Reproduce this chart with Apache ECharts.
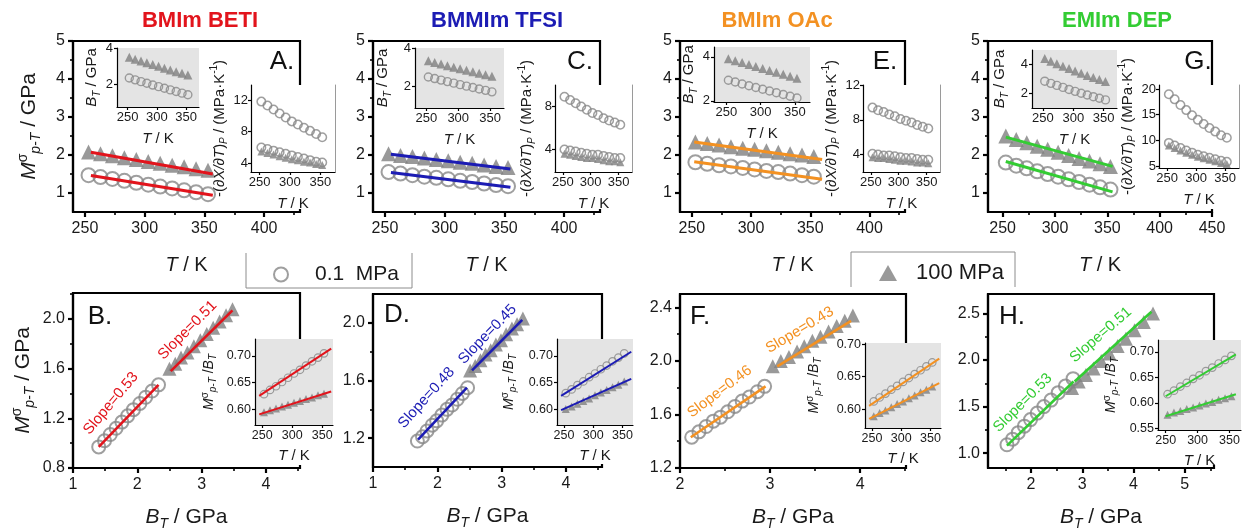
<!DOCTYPE html>
<html>
<head>
<meta charset="utf-8">
<script src="https://cdn.jsdelivr.net/npm/echarts@6/dist/echarts.min.js"></script>
<style>
  html, body { margin: 0; padding: 0; background: #fff; }
  #chart { width: 1243px; height: 531px; }
</style>
</head>
<body>
<div id="chart"></div>
<script>
// temperatures (K), shared by every panel
const T = [253, 263, 273, 283, 293, 303, 313, 323, 333, 343, 353];

// BMIm BETI
const BETI_BT01 = [2.33, 2.23, 2.13, 2.04, 1.94, 1.85, 1.76, 1.67, 1.58, 1.49, 1.40];
const BETI_M01 = [1.47, 1.42, 1.37, 1.32, 1.27, 1.22, 1.17, 1.12, 1.07, 1.02, 0.97];
const BETI_BT100 = [3.48, 3.38, 3.28, 3.18, 3.08, 2.98, 2.88, 2.78, 2.68, 2.59, 2.50];
const BETI_M100 = [2.08, 2.03, 1.98, 1.93, 1.88, 1.83, 1.78, 1.73, 1.69, 1.64, 1.60];
const BETI_dTop = [11.8, 11.3, 10.8, 10.3, 9.8, 9.3, 8.9, 8.5, 8.1, 7.7, 7.3];
const BETI_dLow01 = [6.0, 5.8, 5.6, 5.4, 5.2, 5.0, 4.8, 4.6, 4.4, 4.2, 4.1];
const BETI_dLow100 = [5.5, 5.3, 5.1, 4.9, 4.7, 4.5, 4.4, 4.2, 4.1, 3.9, 3.8];
const BETI_R01 = [0.628, 0.636, 0.643, 0.651, 0.659, 0.667, 0.674, 0.682, 0.690, 0.697, 0.705];
const BETI_R100 = [0.594, 0.598, 0.601, 0.605, 0.608, 0.612, 0.615, 0.619, 0.622, 0.626, 0.629];
const BETI_fitT01 = [[255, 1.46], [357, 0.94]];
const BETI_fitT100 = [[255, 2.07], [357, 1.50]];
const BETI_fitB01 = [[1.40, 0.97], [2.33, 1.47]];
const BETI_fitB100 = [[2.52, 1.58], [3.48, 2.07]];
const BETI_fitR01 = [[245, 0.625], [365, 0.714]];
const BETI_fitR100 = [[245, 0.590], [365, 0.633]];

// BMMIm TFSI
const TFSI_BT01 = [2.47, 2.39, 2.31, 2.23, 2.15, 2.07, 1.99, 1.92, 1.84, 1.77, 1.69];
const TFSI_M01 = [1.55, 1.51, 1.47, 1.43, 1.40, 1.36, 1.32, 1.29, 1.25, 1.21, 1.18];
const TFSI_BT100 = [3.33, 3.24, 3.16, 3.07, 2.99, 2.91, 2.83, 2.75, 2.67, 2.59, 2.51];
const TFSI_M100 = [2.03, 1.99, 1.96, 1.92, 1.88, 1.85, 1.81, 1.78, 1.74, 1.70, 1.67];
const TFSI_dTop = [8.9, 8.6, 8.3, 8.0, 7.7, 7.4, 7.2, 6.9, 6.7, 6.5, 6.3];
const TFSI_dLow01 = [4.0, 3.9, 3.8, 3.7, 3.6, 3.5, 3.5, 3.4, 3.3, 3.2, 3.2];
const TFSI_dLow100 = [3.6, 3.5, 3.4, 3.3, 3.2, 3.2, 3.1, 3.0, 2.9, 2.9, 2.8];
const TFSI_R01 = [0.630, 0.637, 0.645, 0.652, 0.660, 0.667, 0.675, 0.682, 0.690, 0.697, 0.705];
const TFSI_R100 = [0.600, 0.605, 0.610, 0.615, 0.620, 0.626, 0.631, 0.636, 0.641, 0.646, 0.652];
const TFSI_fitT01 = [[255, 1.54], [355, 1.15]];
const TFSI_fitT100 = [[255, 2.02], [355, 1.63]];
const TFSI_fitB01 = [[1.70, 1.19], [2.46, 1.55]];
const TFSI_fitB100 = [[2.54, 1.67], [3.32, 2.02]];
const TFSI_fitR01 = [[245, 0.625], [365, 0.708]];
const TFSI_fitR100 = [[245, 0.598], [365, 0.657]];

// BMIm OAc
const OAC_BT01 = [2.94, 2.86, 2.77, 2.69, 2.61, 2.53, 2.45, 2.37, 2.29, 2.21, 2.13];
const OAC_M01 = [1.81, 1.77, 1.73, 1.70, 1.66, 1.62, 1.58, 1.55, 1.51, 1.47, 1.43];
const OAC_BT100 = [3.92, 3.83, 3.74, 3.65, 3.56, 3.47, 3.38, 3.30, 3.21, 3.12, 3.03];
const OAC_M100 = [2.34, 2.30, 2.26, 2.22, 2.18, 2.15, 2.11, 2.07, 2.03, 2.00, 1.96];
const OAC_dTop = [9.4, 9.1, 8.9, 8.6, 8.4, 8.1, 7.9, 7.7, 7.4, 7.2, 7.0];
const OAC_dLow01 = [4.1, 4.0, 3.9, 3.9, 3.8, 3.7, 3.6, 3.6, 3.5, 3.4, 3.4];
const OAC_dLow100 = [3.7, 3.6, 3.6, 3.5, 3.4, 3.3, 3.3, 3.2, 3.1, 3.1, 3.0];
const OAC_R01 = [0.612, 0.618, 0.624, 0.630, 0.636, 0.642, 0.648, 0.654, 0.660, 0.666, 0.672];
const OAC_R100 = [0.589, 0.594, 0.598, 0.603, 0.608, 0.612, 0.617, 0.621, 0.626, 0.630, 0.635];
const OAC_fitT01 = [[252, 1.82], [360, 1.36]];
const OAC_fitT100 = [[252, 2.34], [360, 1.88]];
const OAC_fitB01 = [[2.12, 1.43], [2.95, 1.81]];
const OAC_fitB100 = [[3.08, 1.96], [3.90, 2.30]];
const OAC_fitR01 = [[245, 0.605], [365, 0.678]];
const OAC_fitR100 = [[245, 0.585], [365, 0.640]];

// EMIm DEP
const DEP_BT01 = [2.82, 2.67, 2.53, 2.39, 2.25, 2.12, 1.99, 1.87, 1.75, 1.64, 1.53];
const DEP_M01 = [1.80, 1.72, 1.65, 1.57, 1.50, 1.43, 1.36, 1.29, 1.22, 1.15, 1.09];
const DEP_BT100 = [4.38, 4.20, 4.02, 3.85, 3.69, 3.53, 3.37, 3.22, 3.07, 2.93, 2.80];
const DEP_M100 = [2.50, 2.41, 2.32, 2.23, 2.15, 2.07, 1.99, 1.91, 1.84, 1.77, 1.70];
const DEP_dTop = [19.0, 18.0, 16.9, 15.9, 14.9, 14.0, 13.2, 12.4, 11.7, 11.0, 10.5];
const DEP_dLow01 = [9.5, 9.0, 8.5, 8.0, 7.6, 7.2, 6.9, 6.6, 6.3, 6.0, 5.8];
const DEP_dLow100 = [9.0, 8.5, 8.0, 7.6, 7.2, 6.8, 6.5, 6.2, 5.9, 5.6, 5.4];
const DEP_R01 = [0.617, 0.624, 0.632, 0.639, 0.647, 0.654, 0.662, 0.669, 0.677, 0.684, 0.692];
const DEP_R100 = [0.577, 0.581, 0.584, 0.588, 0.591, 0.595, 0.599, 0.602, 0.606, 0.609, 0.613];
const DEP_fitT01 = [[253, 1.83], [355, 1.03]];
const DEP_fitT100 = [[253, 2.47], [355, 1.70]];
const DEP_fitB01 = [[1.53, 1.08], [2.83, 1.77]];
const DEP_fitB100 = [[2.85, 1.77], [4.35, 2.52]];
const DEP_fitR01 = [[250, 0.613], [360, 0.695]];
const DEP_fitR100 = [[250, 0.574], [360, 0.617]];

const FONT = 'Arial, "Liberation Sans", Helvetica, sans-serif';
const INK = '#1a1a1a';
const GREY = '#878787';
const TRI = '#7f7f7f';
const LEG01 = '0.1  MPa';
const LEG100 = '100 MPa';

const panels = [
  {
    name: 'BMIm BETI', color: '#e2141c', titleX: 200,
    d: { M01: BETI_M01, M100: BETI_M100, BT01: BETI_BT01, BT100: BETI_BT100, dTop: BETI_dTop, dLow01: BETI_dLow01, dLow100: BETI_dLow100, R01: BETI_R01, R100: BETI_R100,
         fitT01: BETI_fitT01, fitT100: BETI_fitT100, fitB01: BETI_fitB01, fitB100: BETI_fitB100, fitR01: BETI_fitR01, fitR100: BETI_fitR100 },
    top: [73, 41, 227, 171], topX: [240, 430, [250, 300, 350, 400], [275, 325, 375, 425]], topY: true,
    L: [117, 48, 82, 59], Ly: [0.72, 4, [2, 4]], Lgap: 15,
    R: [251, 85, 84, 87], Ry: [2.9, 13.9, [4, 8, 12]], Rgap: 14,
    letters: ['A.', 282, 62, 'B.', 100, 317],
    bot: [73, 293, 227, 175], bX: [1, 4.53, [1, 2, 3, 4], [1.5, 2.5, 3.5, 4.5]], bY: [0.8, 2.21, [0.8, 1.2, 1.6, 2.0], [1.0, 1.4, 1.8, 2.2]], botY: true,
    I: [255, 339, 78, 86], Iy: [0.57, 0.732, [0.60, 0.65, 0.70]], Igap: 37,
    slopes: [['Slope=0.53', 1.59, 1.32, 50], ['Slope=0.51', 2.78, 1.91, 45]]
  },
  {
    name: 'BMMIm TFSI', color: '#1c1cb4', titleX: 497,
    d: { M01: TFSI_M01, M100: TFSI_M100, BT01: TFSI_BT01, BT100: TFSI_BT100, dTop: TFSI_dTop, dLow01: TFSI_dLow01, dLow100: TFSI_dLow100, R01: TFSI_R01, R100: TFSI_R100,
         fitT01: TFSI_fitT01, fitT100: TFSI_fitT100, fitB01: TFSI_fitB01, fitB100: TFSI_fitB100, fitR01: TFSI_fitR01, fitR100: TFSI_fitR100 },
    top: [373, 41, 227, 171], topX: [240, 430, [250, 300, 350, 400], [275, 325, 375, 425]],
    L: [415, 48, 89, 60], Ly: [0.84, 4, [2, 4]], Lgap: 22,
    R: [555, 85, 77, 87], Ry: [1.9, 10, [4, 8]], Rgap: 18,
    letters: ['C.', 580, 62, 'D.', 397, 315],
    bot: [373, 294, 229, 173], bX: [1, 4.56, [1, 2, 3, 4], [1.5, 2.5, 3.5, 4.5]], bY: [1.0, 2.2, [1.2, 1.6, 2.0], [1.4, 1.8]],
    I: [557, 339, 76, 86], Iy: [0.57, 0.732, [0.60, 0.65, 0.70]], Igap: 39,
    slopes: [['Slope=0.48', 1.83, 1.48, 48], ['Slope=0.45', 2.78, 1.92, 46]]
  },
  {
    name: 'BMIm OAc', color: '#f39122', titleX: 777,
    d: { M01: OAC_M01, M100: OAC_M100, BT01: OAC_BT01, BT100: OAC_BT100, dTop: OAC_dTop, dLow01: OAC_dLow01, dLow100: OAC_dLow100, R01: OAC_R01, R100: OAC_R100,
         fitT01: OAC_fitT01, fitT100: OAC_fitT100, fitB01: OAC_fitB01, fitB100: OAC_fitB100, fitR01: OAC_fitR01, fitR100: OAC_fitR100 },
    top: [680, 41, 225, 171], topX: [240, 430, [250, 300, 350, 400], [275, 325, 375, 425]],
    L: [714, 47, 96, 55], Ly: [1.95, 4.45, [2, 4]], Lgap: 11,
    R: [863, 85, 77, 87], Ry: [2, 12, [4, 8, 12]], Rgap: 16,
    letters: ['E.', 885, 62, 'F.', 700, 317],
    bot: [680, 294, 226, 174], bX: [2, 4.51, [2, 3, 4], [2.5, 3.5, 4.5]], bY: [1.2, 2.5, [1.2, 1.6, 2.0, 2.4], [1.4, 1.8, 2.2]],
    I: [865, 343, 76, 85], Iy: [0.571, 0.702, [0.60, 0.65, 0.70]], Igap: 42,
    slopes: [['Slope=0.46', 2.44, 1.77, 37], ['Slope=0.43', 3.33, 2.23, 31]]
  },
  {
    name: 'EMIm DEP', color: '#33cc33', titleX: 1117,
    d: { M01: DEP_M01, M100: DEP_M100, BT01: DEP_BT01, BT100: DEP_BT100, dTop: DEP_dTop, dLow01: DEP_dLow01, dLow100: DEP_dLow100, R01: DEP_R01, R100: DEP_R100,
         fitT01: DEP_fitT01, fitT100: DEP_fitT100, fitB01: DEP_fitB01, fitB100: DEP_fitB100, fitR01: DEP_fitR01, fitR100: DEP_fitR100 },
    top: [988, 41, 224, 171], topX: [236, 450, [250, 300, 350, 400, 450], [275, 325, 375, 425]],
    L: [1032, 50, 85, 58], Ly: [0.97, 4.97, [2, 4]], Lgap: 22,
    R: [1159, 85, 80, 83], Ry: [4.6, 20.8, [5, 10, 15, 20]], Rgap: 17,
    letters: ['G.', 1198, 62, 'H.', 1012, 317],
    bot: [988, 294, 226, 174], bX: [1.16, 5.57, [2, 3, 4, 5], [1.5, 2.5, 3.5, 4.5, 5.5]], bY: [0.84, 2.71, [1.0, 1.5, 2.0, 2.5], [1.25, 1.75, 2.25]],
    I: [1158, 340, 83, 90], Iy: [0.547, 0.723, [0.55, 0.60, 0.65, 0.70]], Igap: 38,
    slopes: [['Slope=0.53', 1.84, 1.54, 45], ['Slope=0.51', 3.36, 2.27, 41]]
  }
];
const TOP_Y_MINOR = [1.5, 2.5, 3.5, 4.5];

function rich(fs) {
  const lh = Math.round(fs * 1.3);
  const s = Math.round(fs * 0.68);
  const base = { fontFamily: FONT, color: INK, fontSize: fs, lineHeight: lh };
  return {
    n: base,
    i: Object.assign({}, base, { fontStyle: 'italic' }),
    sub: { fontFamily: FONT, color: INK, fontSize: s, fontStyle: 'italic', verticalAlign: 'bottom', lineHeight: s },
    sup: { fontFamily: FONT, color: INK, fontSize: s, verticalAlign: 'top', lineHeight: s }
  };
}

const NAME_T = '{i|T}{n| / K}';
const NAME_BT = '{i|B}{sub|T}{n| / GPa}';
const NAME_M = '{i|M}{sup|σ}{sub|p-T}{n| / GPa}';
const NAME_DX = '{n|-(}{i|∂X/∂T}{n|)}{sub|P}{n| / (MPa·K}{sup|-1}{n|)}';
const NAME_RATIO = '{i|M}{sup|σ}{sub|p-T}{n| /}{i|B}{sub|T}';

const grids = [], xAxes = [], yAxes = [], series = [], graphics = [];
const extraX = [], extraY = [];

function axis(gi, a, o) {
  return {
    type: 'value', gridIndex: gi, min: a.min, max: a.max, z: o.z,
    name: a.name || '', nameLocation: 'middle', nameGap: a.gap || 0,
    nameTextStyle: { fontFamily: FONT, fontSize: a.nfs, color: INK, rich: rich(a.nfs) },
    axisLine: { show: true, onZero: false, lineStyle: { color: '#000', width: o.lw } },
    axisTick: { show: true, inside: false, length: o.tl, customValues: a.ticks, lineStyle: { color: '#000', width: o.lw } },
    axisLabel: {
      show: true, customValues: a.ticks, margin: a.margin, fontSize: o.fs, fontFamily: FONT, color: INK,
      formatter: v => Number(v).toFixed(a.dec || 0)
    },
    splitLine: { show: false }
  };
}

// bare axis that only carries short minor ticks (or a plain side line)
function bareAxis(gi, min, max, pos, ticks, line, color) {
  return {
    type: 'value', gridIndex: gi, min: min, max: max, position: pos, z: 6,
    axisLine: { show: !!line, onZero: false, lineStyle: { color: color || '#000', width: 1 } },
    axisTick: { show: !!ticks, inside: false, length: 3, customValues: ticks || [], lineStyle: { color: '#000', width: 1.6 } },
    axisLabel: { show: false }, splitLine: { show: false }
  };
}

function addGrid(box, x, y, o) {
  const gi = grids.length;
  grids.push({
    left: box[0], top: box[1], width: box[2], height: box[3],
    show: true, backgroundColor: o.bg || 'rgba(0,0,0,0)', borderColor: '#000', borderWidth: o.bw || 0,
    z: o.gz || 0, containLabel: false, outerBoundsMode: 'none'
  });
  xAxes.push(axis(gi, x, o));
  yAxes.push(axis(gi, y, o));
  return gi;
}

function circles(gi, xs, ys, size, bw, z) {
  series.push({
    type: 'scatter', name: LEG01, xAxisIndex: gi, yAxisIndex: gi, z: z, silent: true,
    symbol: 'circle', symbolSize: size, data: xs.map((v, i) => [v, ys[i]]),
    itemStyle: { color: 'rgba(255,255,255,0)', borderColor: GREY, borderWidth: bw }
  });
}

function triangles(gi, xs, ys, size, z) {
  series.push({
    type: 'scatter', name: LEG100, xAxisIndex: gi, yAxisIndex: gi, z: z, silent: true,
    symbol: 'triangle', symbolSize: size, data: xs.map((v, i) => [v, ys[i]]),
    itemStyle: { color: TRI }
  });
}

function fit(gi, pts, color, width, z, note) {
  const s = {
    type: 'line', xAxisIndex: gi, yAxisIndex: gi, z: z, silent: true, data: pts,
    symbol: 'none', lineStyle: { color: color, width: width }
  };
  if (note) {
    s.markPoint = {
      symbol: 'circle', symbolSize: 1, itemStyle: { color: 'rgba(0,0,0,0)' }, silent: true,
      label: { show: true, position: 'inside', formatter: note[0], rotate: note[3], color: color, fontSize: 15, fontFamily: FONT },
      data: [{ coord: [note[1], note[2]] }]
    };
  }
  series.push(s);
}

const MAIN = { lw: 2.2, tl: 5, fs: 16, z: 0, bw: 2.2, gz: 0 };
const INSET = { lw: 1.2, tl: 3, fs: 13, z: 6, gz: 3 };

// main panels first, insets on top of them
panels.forEach(p => {
  const g = addGrid(p.top,
    { min: p.topX[0], max: p.topX[1], ticks: p.topX[2], name: NAME_T, gap: 40, nfs: 20, margin: 9 },
    { min: 0.5, max: 5, ticks: [1, 2, 3, 4, 5], name: p.topY ? NAME_M : '', gap: 30, nfs: 21, margin: 8 },
    MAIN);
  circles(g, T, p.d.M01, 14, 2, 2);
  triangles(g, T, p.d.M100, 15, 2);
  fit(g, p.d.fitT01, p.color, 3, 3);
  fit(g, p.d.fitT100, p.color, 3, 3);
  extraX.push(bareAxis(g, p.topX[0], p.topX[1], 'bottom', p.topX[3]));
  extraY.push(bareAxis(g, 0.5, 5, 'left', TOP_Y_MINOR));

  const b = addGrid(p.bot,
    { min: p.bX[0], max: p.bX[1], ticks: p.bX[2], name: NAME_BT, gap: 36, nfs: 21, margin: 9 },
    { min: p.bY[0], max: p.bY[1], ticks: p.bY[2], dec: 1, name: p.botY ? NAME_M : '', gap: 36, nfs: 21, margin: 8 },
    MAIN);
  circles(b, p.d.BT01, p.d.M01, 13, 2, 2);
  triangles(b, p.d.BT100, p.d.M100, 14, 2);
  fit(b, p.d.fitB01, p.color, 2.6, 3, p.slopes[0]);
  fit(b, p.d.fitB100, p.color, 2.6, 3, p.slopes[1]);
  extraX.push(bareAxis(b, p.bX[0], p.bX[1], 'bottom', p.bX[3]));
  extraY.push(bareAxis(b, p.bY[0], p.bY[1], 'left', p.bY[3]));
});

panels.forEach(p => {
  // B_T inset (grey)
  const l = addGrid(p.L,
    { min: 232, max: 372, ticks: [250, 300, 350], name: NAME_T, gap: 22, nfs: 15, margin: 4 },
    { min: p.Ly[0], max: p.Ly[1], ticks: p.Ly[2], name: NAME_BT, gap: p.Lgap, nfs: 15, margin: 4 },
    Object.assign({ bg: '#e4e4e4' }, INSET));
  circles(l, T, p.d.BT01, 8, 1.4, 7);
  triangles(l, T, p.d.BT100, 9, 7);

  // derivative inset (white, thin grey line on its right side)
  const r = addGrid(p.R,
    { min: 236, max: 374, ticks: [250, 300, 350], name: NAME_T, gap: 22, nfs: 15, margin: 4 },
    { min: p.Ry[0], max: p.Ry[1], ticks: p.Ry[2], name: NAME_DX, gap: p.Rgap, nfs: 15, margin: 3 },
    Object.assign({ bg: '#fff' }, INSET));
  triangles(r, T, p.d.dLow100, 8, 7);
  circles(r, T, p.d.dLow01, 8.5, 1.5, 8);
  circles(r, T, p.d.dTop, 8.5, 1.5, 8);
  extraY.push(bareAxis(r, p.Ry[0], p.Ry[1], 'right', null, true, '#9a9a9a'));

  // ratio inset (grey)
  const q = addGrid(p.I,
    { min: 238, max: 368, ticks: [250, 300, 350], name: NAME_T, gap: 21, nfs: 15, margin: 4 },
    { min: p.Iy[0], max: p.Iy[1], ticks: p.Iy[2], dec: 2, name: NAME_RATIO, gap: p.Igap, nfs: 14, margin: 4 },
    Object.assign({ bg: '#e4e4e4' }, INSET, { fs: 12.5 }));
  circles(q, T, p.d.R01, 7.5, 1.2, 7);
  triangles(q, T, p.d.R100, 8, 7);
  fit(q, p.d.fitR01, p.color, 2, 8);
  fit(q, p.d.fitR100, p.color, 2, 8);

  // titles and panel letters
  graphics.push({ type: 'text', x: p.titleX, y: 21, z: 10,
    style: { text: p.name, fill: p.color, font: 'bold 22px ' + FONT, align: 'center', verticalAlign: 'middle', textAlign: 'center', textVerticalAlign: 'middle' } });
  [[p.letters[0], p.letters[1], p.letters[2]], [p.letters[3], p.letters[4], p.letters[5]]].forEach(t => {
    graphics.push({ type: 'text', x: t[1], y: t[2], z: 10,
      style: { text: t[0], fill: '#111', font: '26px ' + FONT, align: 'center', verticalAlign: 'middle', textAlign: 'center', textVerticalAlign: 'middle' } });
  });

  // hide the frame's right edge where the insets sit over it
  const tr = p.top[0] + p.top[2];
  graphics.push({ type: 'rect', z: 5, silent: true,
    shape: { x: tr - 3, y: p.R[1] + 1, width: 7, height: p.top[1] + p.top[3] - 3 - (p.R[1] + 1) },
    style: { fill: '#fff' } });
  const br = p.bot[0] + p.bot[2];
  const iy = p.I[1] + p.I[3];
  graphics.push({ type: 'rect', z: 5, silent: true,
    shape: { x: br - 3, y: iy, width: 7, height: p.bot[1] + p.bot[3] - 3 - iy },
    style: { fill: '#fff' } });
});

// legend frames
graphics.push({ type: 'polyline', z: 10, silent: true,
  shape: { points: [[246, 253], [246, 288], [412, 288], [412, 253]] }, style: { stroke: '#8c8c8c', lineWidth: 1, fill: null } });
graphics.push({ type: 'polyline', z: 10, silent: true,
  shape: { points: [[851, 287], [851, 252], [1015, 252], [1015, 287]] }, style: { stroke: '#8c8c8c', lineWidth: 1, fill: null } });

const chart = echarts.init(document.getElementById('chart'), null, { renderer: 'canvas' });
chart.setOption({
  animation: false,
  backgroundColor: '#fff',
  grid: grids,
  xAxis: xAxes.concat(extraX),
  yAxis: yAxes.concat(extraY),
  series: series,
  legend: [
    { data: [LEG01], left: 268, top: 259, selectedMode: false, itemWidth: 14, itemHeight: 14,
      textStyle: { fontSize: 21, fontFamily: FONT, color: INK, padding: [0, 0, 0, 22] } },
    { data: [LEG100], left: 874, top: 257, selectedMode: false, itemWidth: 18, itemHeight: 16,
      textStyle: { fontSize: 22, fontFamily: FONT, color: INK, padding: [0, 0, 0, 14] } }
  ],
  graphic: { elements: graphics }
});
</script>
</body>
</html>
